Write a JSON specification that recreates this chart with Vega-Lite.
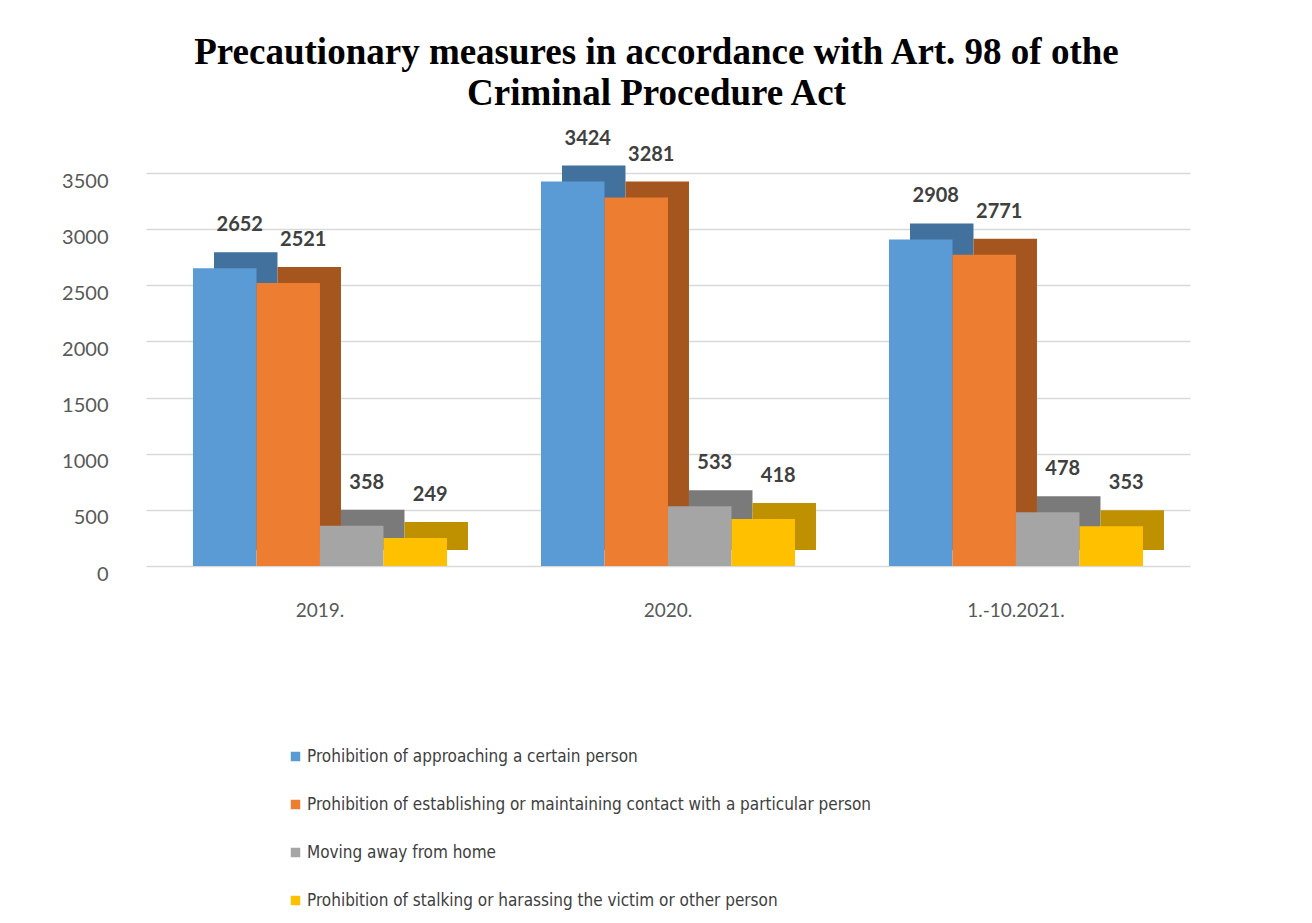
{
  "$schema": "https://vega.github.io/schema/vega-lite/v6.json",
  "autosize": {"type": "none"},
  "padding": {"left": 146, "top": 173, "right": 27, "bottom": 357},
  "width": 1139,
  "height": 393,
  "background": "white",
  "title": {
    "text": ["Precautionary  measures in accordance with Art. 98 of othe", "Criminal Procedure Act"],
    "font": "Liberation Serif",
    "fontSize": 37,
    "fontWeight": "bold",
    "color": "#000000",
    "anchor": "middle",
    "dx": -59,
    "lineHeight": 41,
    "offset": 16
  },
  "data": {
    "values": [
      {"period": "2019.", "measure": "Prohibition of approaching a certain person", "value": 2652},
      {"period": "2019.", "measure": "Prohibition of establishing or maintaining contact with a particular person", "value": 2521},
      {"period": "2019.", "measure": "Moving away from home", "value": 358},
      {"period": "2019.", "measure": "Prohibition of stalking or harassing the victim or other person", "value": 249},
      {"period": "2020.", "measure": "Prohibition of approaching a certain person", "value": 3424},
      {"period": "2020.", "measure": "Prohibition of establishing or maintaining contact with a particular person", "value": 3281},
      {"period": "2020.", "measure": "Moving away from home", "value": 533},
      {"period": "2020.", "measure": "Prohibition of stalking or harassing the victim or other person", "value": 418},
      {"period": "1.-10.2021.", "measure": "Prohibition of approaching a certain person", "value": 2908},
      {"period": "1.-10.2021.", "measure": "Prohibition of establishing or maintaining contact with a particular person", "value": 2771},
      {"period": "1.-10.2021.", "measure": "Moving away from home", "value": 478},
      {"period": "1.-10.2021.", "measure": "Prohibition of stalking or harassing the victim or other person", "value": 353}
    ]
  },
  "encoding": {
    "x": {
      "field": "period",
      "type": "nominal",
      "sort": ["2019.", "2020.", "1.-10.2021."],
      "scale": {"range": [0, 1044], "paddingInner": 0.27, "paddingOuter": 0.135},
      "axis": {
        "title": null, "domain": false, "ticks": false, "labelAngle": 0,
        "labelFont": "Lato", "labelFontSize": 19, "labelColor": "#595959",
        "labelPadding": 35
      }
    },
    "y": {
      "field": "value",
      "type": "quantitative",
      "scale": {"domain": [0, 3500], "nice": false},
      "axis": {
        "title": null, "domain": false, "ticks": false, "values": [0, 500, 1000, 1500, 2000, 2500, 3000, 3500],
        "format": "d",
        "labelFont": "Lato", "labelFontSize": 20, "labelColor": "#595959",
        "labelPadding": 38, "labelOffset": 8,
        "gridColor": "#d9d9d9", "gridWidth": 1.5
      }
    }
  },
  "layer": [
    {
      "mark": {"type": "bar", "yOffset": -16},
      "encoding": {
        "xOffset": {
          "field": "measure",
          "type": "nominal",
          "sort": [
            "Prohibition of approaching a certain person",
            "Prohibition of establishing or maintaining contact with a particular person",
            "Moving away from home",
            "Prohibition of stalking or harassing the victim or other person"
          ],
          "scale": {"range": [21, 275], "paddingInner": 0, "paddingOuter": 0}
        },
        "color": {
          "field": "measure",
          "type": "nominal",
          "sort": [
            "Prohibition of approaching a certain person",
            "Prohibition of establishing or maintaining contact with a particular person",
            "Moving away from home",
            "Prohibition of stalking or harassing the victim or other person"
          ],
          "scale": {"range": ["#41719c", "#a5561f", "#7a7a7a", "#bf9000"]},
          "legend": null
        }
      }
    },
    {
      "mark": {"type": "bar"},
      "encoding": {
        "xOffset": {
          "field": "measure",
          "type": "nominal",
          "sort": [
            "Prohibition of approaching a certain person",
            "Prohibition of establishing or maintaining contact with a particular person",
            "Moving away from home",
            "Prohibition of stalking or harassing the victim or other person"
          ],
          "scale": {"range": [0, 254], "paddingInner": 0, "paddingOuter": 0}
        },
        "color": {
          "field": "measure",
          "type": "nominal",
          "sort": [
            "Prohibition of approaching a certain person",
            "Prohibition of establishing or maintaining contact with a particular person",
            "Moving away from home",
            "Prohibition of stalking or harassing the victim or other person"
          ],
          "scale": {"range": ["#5b9bd5", "#ed7d31", "#a5a5a5", "#ffc000"]},
          "legend": {
            "title": null,
            "orient": "none",
            "legendX": 141,
            "legendY": 575,
            "direction": "vertical",
            "symbolType": "square",
            "symbolSize": 90,
            "symbolStrokeWidth": 0,
            "labelFont": "DejaVu Sans Condensed, Lato",
            "labelFontSize": 17,
            "labelColor": "#404040",
            "labelOffset": 3,
            "labelLimit": 900,
            "rowPadding": 30,
            "padding": 0
          }
        }
      }
    },
    {
      "mark": {"type": "text", "dx": 15, "dy": -43, "baseline": "middle", "font": "Lato", "fontSize": 20, "fontWeight": "bold", "color": "#404040"},
      "encoding": {
        "xOffset": {
          "field": "measure",
          "type": "nominal",
          "sort": [
            "Prohibition of approaching a certain person",
            "Prohibition of establishing or maintaining contact with a particular person",
            "Moving away from home",
            "Prohibition of stalking or harassing the victim or other person"
          ],
          "scale": {"type": "point", "range": [0, 254], "padding": 0.5}
        },
        "text": {"field": "value", "type": "quantitative"}
      }
    }
  ],
  "resolve": {"scale": {"color": "independent", "xOffset": "independent"}},
  "config": {"view": {"stroke": null}}
}
